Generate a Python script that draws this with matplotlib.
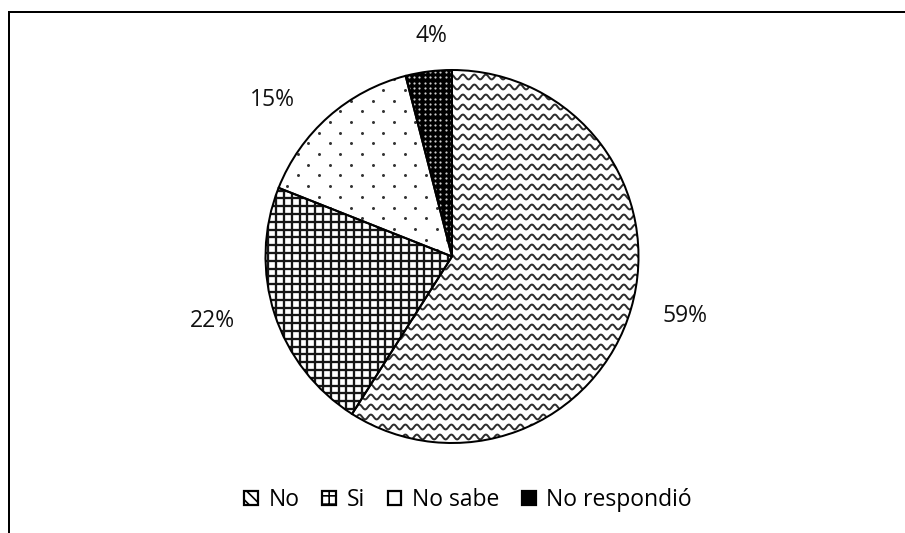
import numpy as np
import matplotlib
matplotlib.use("Agg")
import matplotlib.pyplot as plt
from matplotlib.patches import Patch, Wedge
from matplotlib.lines import Line2D
from matplotlib.collections import LineCollection

plt.rcParams['font.family'] = ['Open Sans', 'DejaVu Sans']
plt.rcParams['hatch.linewidth'] = 1.2

# survey answers
categories = ['No', 'Si', 'No sabe', 'No respondió']
percent = [59, 22, 15, 4]

# label placement (radius factor, angle nudge in degrees) per slice
label_r = [1.29, 1.33, 1.28, 1.19]
label_dtheta = [1.8, -3.0, 7.5, -1.8]

W, H = 905, 533
fig = plt.figure(figsize=(W / 100, H / 100), dpi=100)
ax = fig.add_axes([0, 0, 1, 1])

cx, cy, r = 452, H - 256.5, 186.5
wedges, _ = ax.pie(percent, startangle=90, counterclock=False, radius=r,
                   center=(cx, cy),
                   wedgeprops=dict(facecolor='white', edgecolor='none'))
ax.set_xlim(0, W)
ax.set_ylim(0, H)
ax.set_aspect('equal')
ax.axis('off')

px = 0.72  # one pixel in points


def clip_to(artist, wedge):
    ax.add_artist(artist)
    artist.set_clip_path(wedge)


# No: wavy lines
segs = []
xs = np.arange(cx - r - 5, cx + r + 5, 0.5)
for y0 in np.arange(cy - r - 4, cy + r + 6, 10.0):
    segs.append(np.column_stack([xs, y0 + 2.4 * np.sin(2 * np.pi * xs / 11.5)]))
clip_to(LineCollection(segs, colors='#2e2e2e', linewidths=2.0 * px), wedges[0])

# Si: square grid
grid = []
for g in np.arange(cx - r - 5, cx + r + 5, 7.8):
    grid.append([(g, cy - r - 5), (g, cy + r + 5)])
for g in np.arange(cy - r - 5, cy + r + 5, 7.8):
    grid.append([(cx - r - 5, g), (cx + r + 5, g)])
clip_to(LineCollection(grid, colors='#151515', linewidths=2.3 * px), wedges[1])

# No sabe: staggered dots
dx, dy = [], []
for i, y0 in enumerate(np.arange(cy - r, cy + r, 10.7)):
    off = 10.7 if i % 2 else 0
    for x0 in np.arange(cx - r + off, cx + r, 21.4):
        dx.append(x0)
        dy.append(y0)
dots = ax.scatter(dx, dy, s=(3.0 * px) ** 2, color='#333333', linewidths=0)
dots.set_clip_path(wedges[2])

# No respondió: black with white dots
wedges[3].set_facecolor('black')
bx, by = np.meshgrid(np.arange(cx - r, cx + r, 5.3), np.arange(cy - r, cy + r, 5.3))
wdots = ax.scatter(bx.ravel(), by.ravel(), s=(2.2 * px) ** 2, color='#d0d0d0',
                   linewidths=0, zorder=3)
wdots.set_clip_path(wedges[3])

# slice outlines on top
for w in wedges:
    ax.add_patch(Wedge((cx, cy), r, w.theta1, w.theta2, facecolor='none',
                       edgecolor='black', linewidth=2.0 * px, zorder=5))

# percentage labels outside the slices
for w, p, k, dt in zip(wedges, percent, label_r, label_dtheta):
    ang = np.deg2rad((w.theta1 + w.theta2) / 2 + dt)
    ax.text(cx + k * r * np.cos(ang), cy + k * r * np.sin(ang), f'{p}%',
            ha='center', va='center', fontsize=16.5, color='#111111')

# legend
handles = [
    Patch(facecolor='white', edgecolor='black', hatch='\\\\\\', linewidth=1.6),
    Patch(facecolor='white', edgecolor='black', hatch='++', linewidth=1.6),
    Patch(facecolor='white', edgecolor='black', linewidth=1.6),
    Patch(facecolor='black', edgecolor='black', linewidth=1.6),
]
fig.legend(handles, categories, loc='center', bbox_to_anchor=(468 / W, 1 - 500 / H),
           ncol=4, frameon=False, fontsize=16.5, handlelength=0.6,
           handleheight=0.6, handletextpad=0.45, columnspacing=1.0, borderpad=0)

# chart frame (left and top edges visible)
fig.add_artist(Line2D([9 / W, 9 / W], [0, 1 - 11.5 / H], color='black',
                      linewidth=2.0 * px, transform=fig.transFigure))
fig.add_artist(Line2D([9 / W, 1], [1 - 11.5 / H, 1 - 11.5 / H], color='black',
                      linewidth=2.0 * px, transform=fig.transFigure))

fig.savefig('out.png', dpi=100)
